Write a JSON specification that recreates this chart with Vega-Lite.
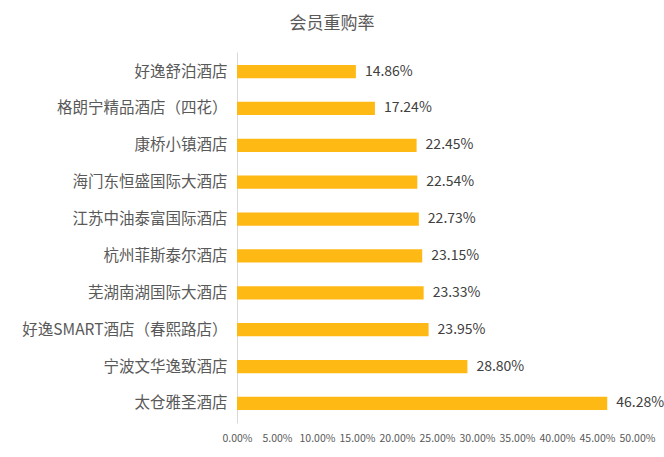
{
  "$schema": "https://vega.github.io/schema/vega-lite/v6.json",
  "description": "会员重购率 by hotel.",
  "autosize": {"type": "none"},
  "width": 400,
  "height": 371,
  "padding": {"left": 237, "top": 52, "right": 27, "bottom": 34},
  "background": "white",
  "config": {
    "view": {"stroke": null},
    "font": "Noto Sans CJK SC"
  },
  "title": {
    "text": "会员重购率",
    "fontSize": 17,
    "fontWeight": "normal",
    "color": "#595959",
    "dx": -105,
    "offset": 19
  },
  "data": {
    "values": [
      {"hotel": "好逸舒泊酒店", "rate": 0.1486},
      {"hotel": "格朗宁精品酒店（四花）", "rate": 0.1724},
      {"hotel": "康桥小镇酒店", "rate": 0.2245},
      {"hotel": "海门东恒盛国际大酒店", "rate": 0.2254},
      {"hotel": "江苏中油泰富国际酒店", "rate": 0.2273},
      {"hotel": "杭州菲斯泰尔酒店", "rate": 0.2315},
      {"hotel": "芜湖南湖国际大酒店", "rate": 0.2333},
      {"hotel": "好逸SMART酒店（春熙路店）", "rate": 0.2395},
      {"hotel": "宁波文华逸致酒店", "rate": 0.288},
      {"hotel": "太仓雅圣酒店", "rate": 0.4628}
    ]
  },
  "encoding": {
    "y": {
      "field": "hotel",
      "type": "nominal",
      "sort": {"field": "rate", "order": "ascending"},
      "scale": {"paddingInner": 0.64, "paddingOuter": 0.35},
      "axis": {
        "title": null,
        "ticks": false,
        "domainColor": "#d9d9d9",
        "labelFontSize": 15.5,
        "labelColor": "#595959",
        "labelPadding": 10,
        "labelLimit": 260
      }
    },
    "x": {
      "field": "rate",
      "type": "quantitative",
      "scale": {"domain": [0, 0.5], "nice": false},
      "axis": {
        "title": null,
        "format": ".2%",
        "values": [0, 0.05, 0.1, 0.15, 0.2, 0.25, 0.3, 0.35, 0.4, 0.45, 0.5],
        "grid": false,
        "domain": false,
        "ticks": false,
        "labelFontSize": 10.5,
        "labelColor": "#595959",
        "labelPadding": 10,
        "labelFlush": false,
        "labelOverlap": false
      }
    }
  },
  "layer": [
    {"mark": {"type": "bar", "color": "#FFB915"}},
    {
      "mark": {"type": "text", "align": "left", "dx": 9, "fontSize": 14, "color": "#404040"},
      "encoding": {
        "text": {"field": "rate", "type": "quantitative", "format": ".2%"}
      }
    }
  ]
}
